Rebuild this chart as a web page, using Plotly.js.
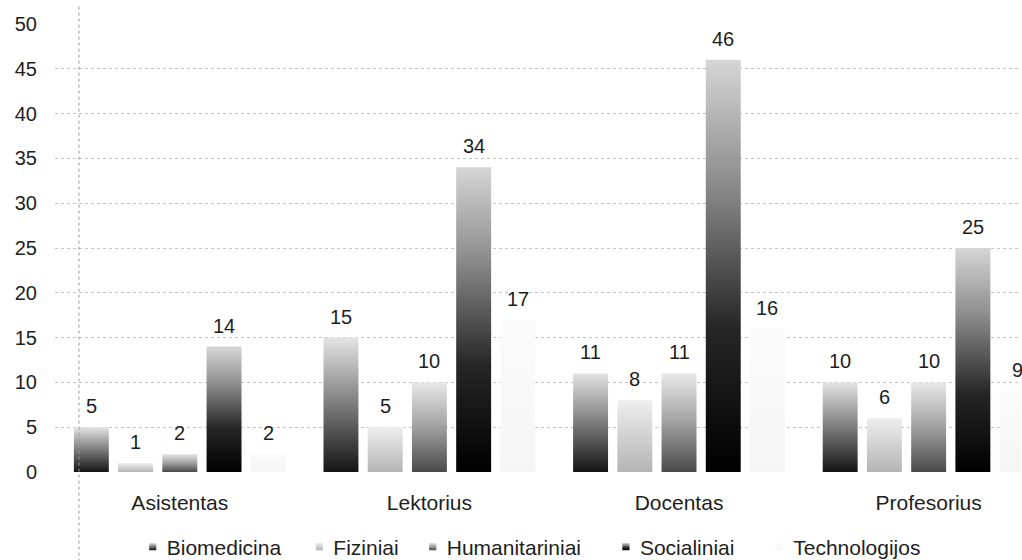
<!DOCTYPE html>
<html>
<head>
<meta charset="utf-8">
<script src="https://cdn.plot.ly/plotly-3.0.1.min.js"></script>
<style>
  html, body { margin: 0; padding: 0; background: #fff; }
  #chart { width: 1022px; height: 560px; }
</style>
</head>
<body>
<div id="chart"></div>
<script>
// ---- data ----
const categories = ['Asistentas', 'Lektorius', 'Docentas', 'Profesorius'];
const seriesNames = ['Biomedicina', 'Fiziniai', 'Humanitariniai', 'Socialiniai', 'Technologijos'];
const biomedicina    = [5, 15, 11, 10];
const fiziniai       = [1, 5, 8, 6];
const humanitariniai = [2, 10, 11, 10];
const socialiniai    = [14, 34, 46, 25];
const technologijos  = [2, 17, 16, 9];
const yTickValues    = [0, 5, 10, 15, 20, 25, 30, 35, 40, 45, 50];

const seriesValues = [biomedicina, fiziniai, humanitariniai, socialiniai, technologijos];

// ---- styles ----
const baseColors = ['#6e6e6e', '#d4d4d4', '#9a9a9a', '#3a3a3a', '#f8f8f8'];
const gradStops = [
  [[0, '#141414'], [0.5, '#7c7c7c'], [1, '#e4e4e4']],
  [[0, '#b4b4b4'], [1, '#eeeeee']],
  [[0, '#4a4a4a'], [0.55, '#a8a8a8'], [1, '#e8e8e8']],
  [[0, '#000000'], [0.35, '#262626'], [0.7, '#8c8c8c'], [1, '#d6d6d6']],
  [[0, '#f5f5f5'], [1, '#fbfbfb']]
];
// legend entry anchor positions (fraction of figure width)
const legendX = [0.124, 0.287, 0.398, 0.587, 0.737];
const FONT = 'Liberation Sans, Arial, sans-serif';
const TXT = '#1e1e1e';
const BARGAP = 0.114;
const nSeries = seriesNames.length;

const legendIds = seriesNames.map((_, i) => i === 0 ? 'legend' : 'legend' + (i + 1));

const data = seriesNames.map((name, i) => ({
  type: 'bar',
  name: name,
  x: categories,
  y: seriesValues[i],
  legend: legendIds[i],
  marker: { color: baseColors[i], line: { width: 0 } },
  hoverinfo: 'skip'
}));

// value labels above bars, positioned on the category axis
const annotations = [];
seriesValues.forEach((vals, i) => {
  vals.forEach((v, j) => {
    annotations.push({
      xref: 'x', yref: 'y',
      x: j + (i - (nSeries - 1) / 2) * (1 - BARGAP) / nSeries,
      y: v,
      text: String(v),
      showarrow: false,
      yanchor: 'middle',
      yshift: 21,
      font: { family: FONT, size: 20, color: TXT }
    });
  });
});

const layout = {
  width: 1022,
  height: 560,
  margin: { l: 55, r: 1, t: 24, b: 88, autoexpand: false },
  paper_bgcolor: '#ffffff',
  plot_bgcolor: '#ffffff',
  font: { family: FONT, size: 21, color: TXT },
  barmode: 'group',
  bargap: BARGAP,
  bargroupgap: 0.21,
  showlegend: true,
  xaxis: {
    type: 'category',
    range: [-0.5, 3.37],
    showline: false,
    showgrid: false,
    zeroline: false,
    ticks: '',
    ticklabelstandoff: 16,
    tickfont: { family: FONT, size: 21, color: TXT }
  },
  yaxis: {
    range: [0, 50],
    tickmode: 'array',
    tickvals: yTickValues,
    ticktext: yTickValues.map(String),
    showline: false,
    zeroline: false,
    showgrid: true,
    gridcolor: '#c4c4c4',
    griddash: 'dot',
    gridwidth: 1,
    ticks: '',
    ticklabelstandoff: 17,
    tickfont: { family: FONT, size: 20, color: TXT }
  },
  shapes: [{
    type: 'line', xref: 'paper', yref: 'paper',
    x0: 0.0248, x1: 0.0248, y0: -0.2, y1: 1.042,
    line: { color: '#9a9a9a', width: 1, dash: 'dot' }
  }],
  annotations: annotations
};

legendIds.forEach((id, i) => {
  layout[id] = {
    orientation: 'h',
    xref: 'container', yref: 'container',
    x: legendX[i], xanchor: 'left',
    y: 0.06, yanchor: 'top',
    bgcolor: 'rgba(0,0,0,0)',
    font: { family: FONT, size: 21, color: TXT },
    itemwidth: 30
  };
});

const gd = document.getElementById('chart');
Plotly.newPlot(gd, data, layout, { staticPlot: true, displayModeBar: false }).then(applyGradients);

function applyGradients() {
  const ns = 'http://www.w3.org/2000/svg';
  const svg = gd.querySelector('.main-svg');
  let defs = svg.querySelector('defs');
  if (!defs) { defs = document.createElementNS(ns, 'defs'); svg.insertBefore(defs, svg.firstChild); }
  gradStops.forEach((stops, i) => {
    const lg = document.createElementNS(ns, 'linearGradient');
    lg.setAttribute('id', 'barGrad' + i);
    lg.setAttribute('x1', '0'); lg.setAttribute('y1', '1');
    lg.setAttribute('x2', '0'); lg.setAttribute('y2', '0');
    stops.forEach(s => {
      const st = document.createElementNS(ns, 'stop');
      st.setAttribute('offset', s[0]);
      st.setAttribute('stop-color', s[1]);
      lg.appendChild(st);
    });
    defs.appendChild(lg);
  });
  gd.querySelectorAll('.barlayer .trace').forEach((t, i) => {
    t.querySelectorAll('path').forEach(p => { p.style.fill = 'url(#barGrad' + i + ')'; });
  });
  legendIds.forEach((id, i) => {
    const lg = gd.querySelector('.' + id);
    if (!lg) return;
    lg.querySelectorAll('.legendpoints path').forEach(p => {
      p.style.fill = 'url(#barGrad' + i + ')';
      p.style.stroke = 'none';
      const tr = p.getAttribute('transform') || '';
      p.setAttribute('transform', tr + ' translate(6,0) scale(0.6)');
    });
  });
}
</script>
</body>
</html>
